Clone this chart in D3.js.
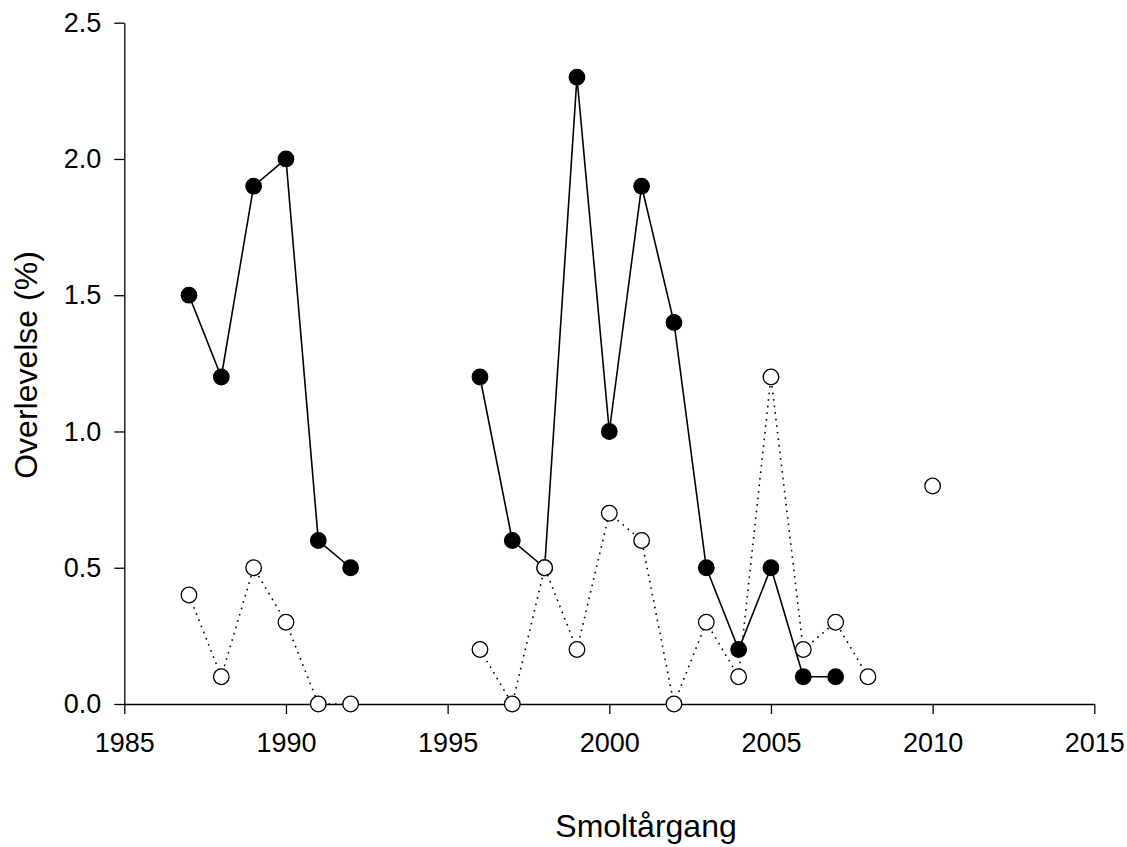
<!DOCTYPE html>
<html>
<head>
<meta charset="utf-8">
<script src="https://cdn.jsdelivr.net/npm/d3@7"></script>
<style>
  body { margin: 0; background: #fff; }
  svg { display: block; }
  text { font-family: Arial, "Liberation Sans", sans-serif; fill: #000; }
</style>
</head>
<body>
<svg id="chart" width="1127" height="847"></svg>
<script>
// ---- data ----
const years = [1987, 1988, 1989, 1990, 1991, 1992, 1993, 1994, 1995, 1996, 1997, 1998,
               1999, 2000, 2001, 2002, 2003, 2004, 2005, 2006, 2007, 2008, 2009, 2010];
const filledSeries = [1.5, 1.2, 1.9, 2.0, 0.6, 0.5, null, null, null, 1.2, 0.6, 0.5,
                      2.3, 1.0, 1.9, 1.4, 0.5, 0.2, 0.5, 0.1, 0.1, null, null, null];
const openSeries   = [0.4, 0.1, 0.5, 0.3, 0.0, 0.0, null, null, null, 0.2, 0.0, 0.5,
                      0.2, 0.7, 0.6, 0.0, 0.3, 0.1, 1.2, 0.2, 0.3, 0.1, null, 0.8];
const xTicks = [1985, 1990, 1995, 2000, 2005, 2010, 2015];
const yTicks = [0.0, 0.5, 1.0, 1.5, 2.0, 2.5];
const xTitle = "Smoltårgang";
const yTitle = "Overlevelse (%)";

// ---- layout ----
const svg = d3.select("#chart");
const x = d3.scaleLinear().domain([1985, 2015]).range([124.3, 1094.3]);
const y = d3.scaleLinear().domain([0, 2.5]).range([704, 22.7]);

const xAxis = d3.axisBottom(x).tickValues(xTicks).tickFormat(d3.format("d"))
  .tickSizeInner(10).tickSizeOuter(0).tickPadding(19);
const yAxis = d3.axisLeft(y).tickValues(yTicks).tickFormat(d3.format(".1f"))
  .tickSizeInner(10).tickSizeOuter(0).tickPadding(13);

const gx = svg.append("g").attr("transform", `translate(0,${y(0)})`).call(xAxis);
const gy = svg.append("g").attr("transform", `translate(${x(1985)},0)`).call(yAxis);
[gx, gy].forEach(g => {
  g.selectAll("path.domain").attr("stroke", "#000").attr("stroke-width", 1.3);
  g.selectAll(".tick line").attr("stroke", "#000").attr("stroke-width", 1.3);
  g.selectAll(".tick text").attr("font-size", 27).attr("font-family", "Arial, 'Liberation Sans', sans-serif").attr("fill", "#000");
});

// titles
svg.append("text").attr("x", 646).attr("y", 837).attr("text-anchor", "middle")
  .attr("font-size", 32).text(xTitle);
svg.append("text").attr("transform", `translate(36.5,365) rotate(-90)`)
  .attr("text-anchor", "middle").attr("font-size", 32).text(yTitle);

const filled = years.map((yr, i) => ({ yr, v: filledSeries[i] }));
const open = years.map((yr, i) => ({ yr, v: openSeries[i] }));

const line = d3.line().defined(d => d.v !== null).x(d => x(d.yr)).y(d => y(d.v));

svg.append("path").datum(filled).attr("d", line)
  .attr("fill", "none").attr("stroke", "#000").attr("stroke-width", 1.6);
svg.append("path").datum(open).attr("d", line)
  .attr("fill", "none").attr("stroke", "#000").attr("stroke-width", 1.6)
  .attr("stroke-dasharray", "1.6,5");

svg.append("g").selectAll("circle").data(filled.filter(d => d.v !== null)).join("circle")
  .attr("cx", d => x(d.yr)).attr("cy", d => y(d.v)).attr("r", 7.8)
  .attr("fill", "#000").attr("stroke", "#000").attr("stroke-width", 1.2);
svg.append("g").selectAll("circle").data(open.filter(d => d.v !== null)).join("circle")
  .attr("cx", d => x(d.yr)).attr("cy", d => y(d.v)).attr("r", 7.8)
  .attr("fill", "#fff").attr("stroke", "#000").attr("stroke-width", 1.3);
</script>
</body>
</html>
